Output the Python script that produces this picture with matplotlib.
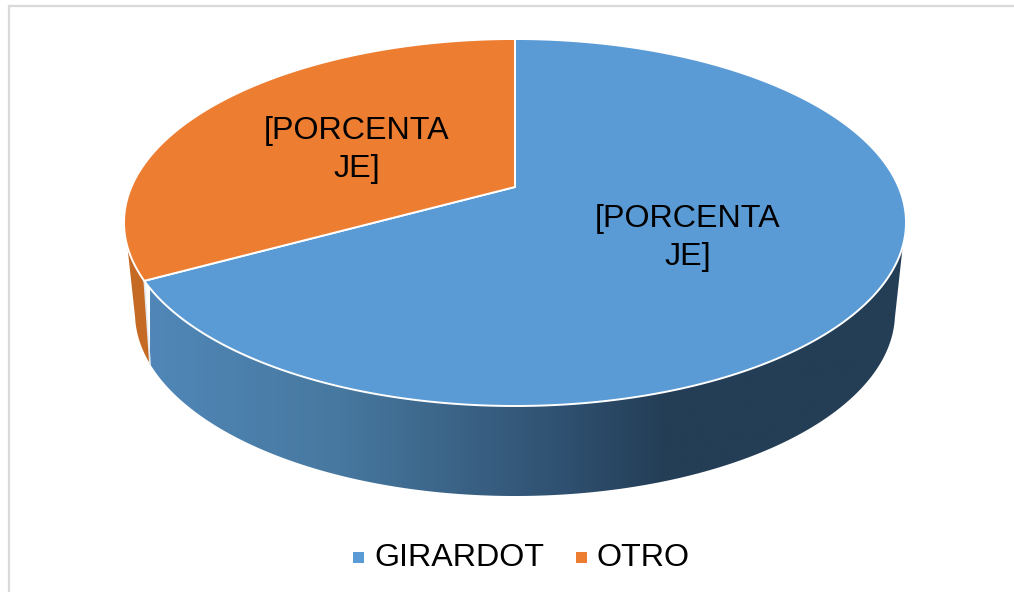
import numpy as np
import matplotlib.pyplot as plt
from matplotlib.colors import LinearSegmentedColormap
from matplotlib.patches import Polygon, Rectangle

# Datos
categories = ['GIRARDOT', 'OTRO']
values = [67, 33]
label_lines = ['[PORCENTA', 'JE]']
colors = ['#5B9BD5', '#ED7D31']
side_orange = '#C46A25'

plt.rcParams['font.family'] = ['Liberation Sans', 'DejaVu Sans']

fig = plt.figure(figsize=(10.14, 5.92), dpi=100)
ax = fig.add_axes([0, 0, 1, 1])


# Disco en perspectiva: angulo desde arriba, en sentido horario
def rim(theta, a, y_back, y_center, y_front, cx=515):
    front = y_front - y_center
    back = y_center - y_back
    p = (back - front) / (back + front)
    k = back * (1 - p)
    s = a * np.sqrt(1 - p ** 2)
    u = np.sin(theta)
    v = -np.cos(theta)
    w = 1 + p * v
    return cx + s * u / w, y_center + k * v / w


def top_rim(theta):
    return rim(theta, 391, 39, 187, 406)


def bottom_rim(theta):
    return rim(theta, 380, 130, 270, 496)


split = 2 * np.pi * values[0] / sum(values)
blue_t = np.linspace(0, split, 600)
orange_t = np.linspace(split, 2 * np.pi, 300)


def join_arcs(xt, yt, xb, yb):
    return np.column_stack([np.r_[xt, xb[::-1]], np.r_[yt, yb[::-1]]])


# Lateral azul con degradado
xt, yt = top_rim(blue_t)
xb, yb = bottom_rim(blue_t)
mt = (yt >= 246) | (blue_t > np.pi)
mb = (yb >= 317) | (blue_t > np.pi)
blue_side = Polygon(join_arcs(xt[mt], yt[mt], xb[mb], yb[mb]), closed=True,
                    facecolor='none', edgecolor='none')
ax.add_patch(blue_side)
cmap = LinearSegmentedColormap.from_list(
    'side', [(0, '#5087B8'), (0.25, '#47789F'), (0.55, '#2F5070'),
             (0.68, '#243E56'), (1, '#243E56')])
grad = ax.imshow(np.linspace(0, 1, 512).reshape(1, -1), cmap=cmap, aspect='auto',
                 extent=(150, 906, 500, 230), zorder=1)
grad.set_clip_path(blue_side)

# Lateral naranja
xt, yt = top_rim(orange_t)
xb, yb = bottom_rim(orange_t)
mt = (yt >= 246) & (orange_t < 1.6 * np.pi)
mb = (yb >= 317) & (orange_t < 1.6 * np.pi)
ax.add_patch(Polygon(join_arcs(xt[mt], yt[mt], xb[mb], yb[mb]), closed=True,
                     facecolor=side_orange, edgecolor='none', zorder=2))

# Linea clara entre los laterales
x0, y0 = top_rim(split)
x1, y1 = bottom_rim(split)
ax.plot([x0, x1], [y0, y1], color='#E4E9EE', lw=1.2, zorder=3)

# Tapa superior
cx, cy = 515, 187
for t, c in zip([blue_t, orange_t], colors):
    x, y = top_rim(t)
    pts = np.column_stack([np.r_[cx, x], np.r_[cy, y]])
    ax.add_patch(Polygon(pts, closed=True, facecolor=c, edgecolor='white',
                         lw=1.4, joinstyle='miter', zorder=4))

for (lx, ly) in [(688, 219), (357, 131)]:
    ax.text(lx, ly, label_lines[0], fontsize=23.2, ha='center', va='center', color='black', zorder=5)
    ax.text(lx, ly + 37.5, label_lines[1], fontsize=23.2, ha='center', va='center', color='black', zorder=5)

# Leyenda
for i, (name, c) in enumerate(zip(categories, colors)):
    mx = [353, 576][i]
    ax.add_patch(Rectangle((mx, 552), 11, 11, facecolor=c, edgecolor='none', zorder=5))
    ax.text(mx + 21, 558.5, name, fontsize=23.2, ha='left', va='center', color='black', zorder=5)

# Marco
ax.plot([9, 9, 1014], [592, 6, 6], color='#D9D9D9', lw=1.6, solid_joinstyle='miter', zorder=0)

ax.set_xlim(0, 1014)
ax.set_ylim(592, 0)
ax.axis('off')

fig.savefig('out.png', dpi=100)
